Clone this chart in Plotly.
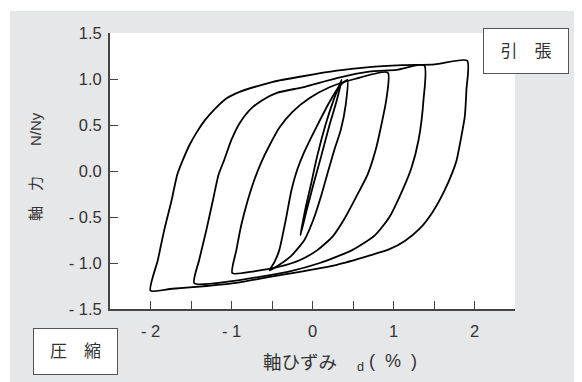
import plotly.graph_objects as go

# ---------------- data (strain %, N/Ny) ----------------
# small elastic cycle
elastic_x = [-0.15, -0.09, -0.02, 0.06, 0.16, 0.26, 0.36, 0.30, 0.21, 0.11, 0.01, -0.07, -0.15]
elastic_y = [-0.70, -0.42, -0.15, 0.17, 0.50, 0.77, 0.99, 0.77, 0.50, 0.17, -0.15, -0.42, -0.70]

# +/-0.5 % cycle
loop05_x = [-0.53, -0.47, -0.41, -0.33, -0.26, -0.19, -0.10, 0.05, 0.21, 0.33, 0.43,
            0.41, 0.35, 0.27, 0.19, 0.11, 0.01, -0.10, -0.26, -0.41, -0.53]
loop05_y = [-1.08, -0.99, -0.86, -0.53, -0.21, 0.01, 0.21, 0.48, 0.75, 0.92, 0.99,
            0.72, 0.45, 0.23, -0.01, -0.26, -0.53, -0.75, -0.92, -1.02, -1.08]

# +/-1.0 % cycle
loop10_x = [-0.99, -0.94, -0.88, -0.80, -0.72, -0.63, -0.53, -0.41, -0.25, -0.04, 0.21, 0.52, 0.93,
            0.91, 0.85, 0.78, 0.68, 0.54, 0.40, 0.25, 0.06, -0.16, -0.41, -0.72, -0.99]
loop10_y = [-1.11, -0.86, -0.59, -0.32, -0.10, 0.10, 0.28, 0.47, 0.64, 0.79, 0.91, 1.00, 1.07,
            0.77, 0.50, 0.23, -0.04, -0.28, -0.51, -0.71, -0.86, -0.97, -1.04, -1.09, -1.11]

# +/-1.5 % cycle
loop15_x = [-1.46, -1.40, -1.31, -1.23, -1.16, -1.09, -1.00, -0.90, -0.78, -0.62, -0.44, -0.12, 0.30, 0.70, 1.04, 1.38,
            1.37, 1.31, 1.22, 1.11, 0.95, 0.77, 0.49, 0.09, -0.28, -0.65, -1.02, -1.46]
loop15_y = [-1.22, -0.97, -0.64, -0.32, -0.04, 0.12, 0.34, 0.52, 0.66, 0.77, 0.85, 0.91, 1.01, 1.08, 1.10, 1.15,
            0.77, 0.34, 0.03, -0.21, -0.50, -0.70, -0.86, -1.00, -1.09, -1.15, -1.20, -1.22]

# +/-2.0 % cycle
loop20_x = [-2.00, -1.91, -1.83, -1.74, -1.67, -1.60, -1.52, -1.43, -1.33, -1.21, -1.06, -0.90, -0.69, -0.49,
            -0.12, 0.30, 0.70, 1.11, 1.51, 1.91,
            1.90, 1.88, 1.83, 1.78, 1.73, 1.62, 1.48, 1.32, 1.14, 0.95, 0.70, 0.30, -0.12, -0.53, -0.90,
            -1.31, -1.73, -2.00]
loop20_y = [-1.30, -0.97, -0.64, -0.32, -0.04, 0.12, 0.28, 0.42, 0.55, 0.67, 0.79, 0.86, 0.92, 0.97,
            1.03, 1.09, 1.13, 1.15, 1.16, 1.20,
            0.88, 0.59, 0.34, 0.12, -0.01, -0.23, -0.45, -0.63, -0.76, -0.85, -0.92, -1.02, -1.09, -1.15, -1.21,
            -1.25, -1.28, -1.30]

x_tickvals = [-2, -1, 0, 1, 2]
x_ticktext = ["- 2", "- 1", "0", "1", "2"]
y_tickvals = [-1.5, -1.0, -0.5, 0.0, 0.5, 1.0, 1.5]
y_ticktext = ["- 1.5", "- 1.0", "- 0.5", "0.0", "0.5", "1.0", "1.5"]

# ---------------- figure ----------------
OFF = 8                      # page body margin of the html page
W, H = 582 - OFF, 382 - OFF
L, R, T, B = 110 - OFF, 582 - 515, 33 - OFF, 382 - 309
pw, ph = W - L - R, H - T - B


def px(xr):
    """reference-screen x pixel -> paper coordinate"""
    return (xr - OFF - L) / pw


def py(yr):
    """reference-screen y pixel -> paper coordinate"""
    return (H - B - (yr - OFF)) / ph


fig = go.Figure()
for xs, ys in [(loop20_x, loop20_y), (loop15_x, loop15_y), (loop10_x, loop10_y),
               (loop05_x, loop05_y), (elastic_x, elastic_y)]:
    fig.add_trace(go.Scatter(x=xs, y=ys, mode="lines",
                             line=dict(color="black", width=1.8, shape="spline", smoothing=0.6),
                             showlegend=False, hoverinfo="skip"))

FONT = "Liberation Sans, Arial, Noto Sans CJK JP, sans-serif"
GRAY = "#e6e7e9"
AX = "#444444"
TXT = "#333333"

fig.update_layout(
    width=W, height=H,
    margin=dict(l=L, r=R, t=T, b=B, pad=0),
    paper_bgcolor=GRAY, plot_bgcolor="white",
    font=dict(family=FONT, color=TXT, size=16),
    showlegend=False,
    xaxis=dict(range=[-2.5, 2.5], tickvals=x_tickvals, ticktext=x_ticktext,
               ticks="inside", ticklen=8, tickwidth=1, tickcolor=AX,
               minor=dict(ticks="inside", ticklen=8, tickwidth=1, tickcolor=AX, dtick=0.5, tick0=0),
               showline=True, linecolor=AX, linewidth=2, mirror=False,
               showgrid=False, zeroline=False, ticklabelstandoff=6,
               tickfont=dict(size=16.5, color=TXT)),
    yaxis=dict(range=[-1.5, 1.5], tickvals=y_tickvals, ticktext=y_ticktext,
               ticks="inside", ticklen=8, tickwidth=1, tickcolor=AX,
               showline=True, linecolor=AX, linewidth=2, mirror=False,
               showgrid=False, zeroline=False, ticklabelstandoff=3,
               tickfont=dict(size=16.5, color=TXT)),
)

# white strips outside the gray panel (top and left)
fig.add_shape(type="rect", xref="paper", yref="paper", x0=px(0), x1=px(600), y0=py(11), y1=py(0),
              fillcolor="white", line=dict(width=0), layer="below")
fig.add_shape(type="rect", xref="paper", yref="paper", x0=px(0), x1=px(10), y0=py(400), y1=py(0),
              fillcolor="white", line=dict(width=0), layer="below")

# axis titles
fig.add_annotation(text="軸　力　　N/Ny", xref="paper", yref="paper", x=px(35), y=py(167),
                   textangle=-90, showarrow=False, xanchor="center", yanchor="middle",
                   font=dict(size=15, color=TXT))
fig.add_annotation(text="軸ひずみ", xref="paper", yref="paper", x=px(261), y=py(362),
                   showarrow=False, xanchor="left", yanchor="middle",
                   font=dict(size=18.5, color=TXT))
fig.add_annotation(text="<sub>d</sub>&nbsp;(&nbsp;&nbsp;%&nbsp;&nbsp;)", xref="paper", yref="paper",
                   x=px(355), y=py(362),
                   showarrow=False, xanchor="left", yanchor="middle",
                   font=dict(size=18, color=TXT))

# boxed labels
fig.add_annotation(text="引　張", xref="paper", yref="paper", x=px(526), y=py(51),
                   showarrow=False, xanchor="center", yanchor="middle",
                   width=84, height=44, bgcolor="white", bordercolor="#555555", borderwidth=1, borderpad=0,
                   font=dict(size=17, color=TXT))
fig.add_annotation(text="圧　縮", xref="paper", yref="paper", x=px(75.5), y=py(351.5),
                   showarrow=False, xanchor="center", yanchor="middle",
                   width=83, height=45, bgcolor="white", bordercolor="#555555", borderwidth=1, borderpad=0,
                   font=dict(size=17, color=TXT))

fig.write_html("out.html")
